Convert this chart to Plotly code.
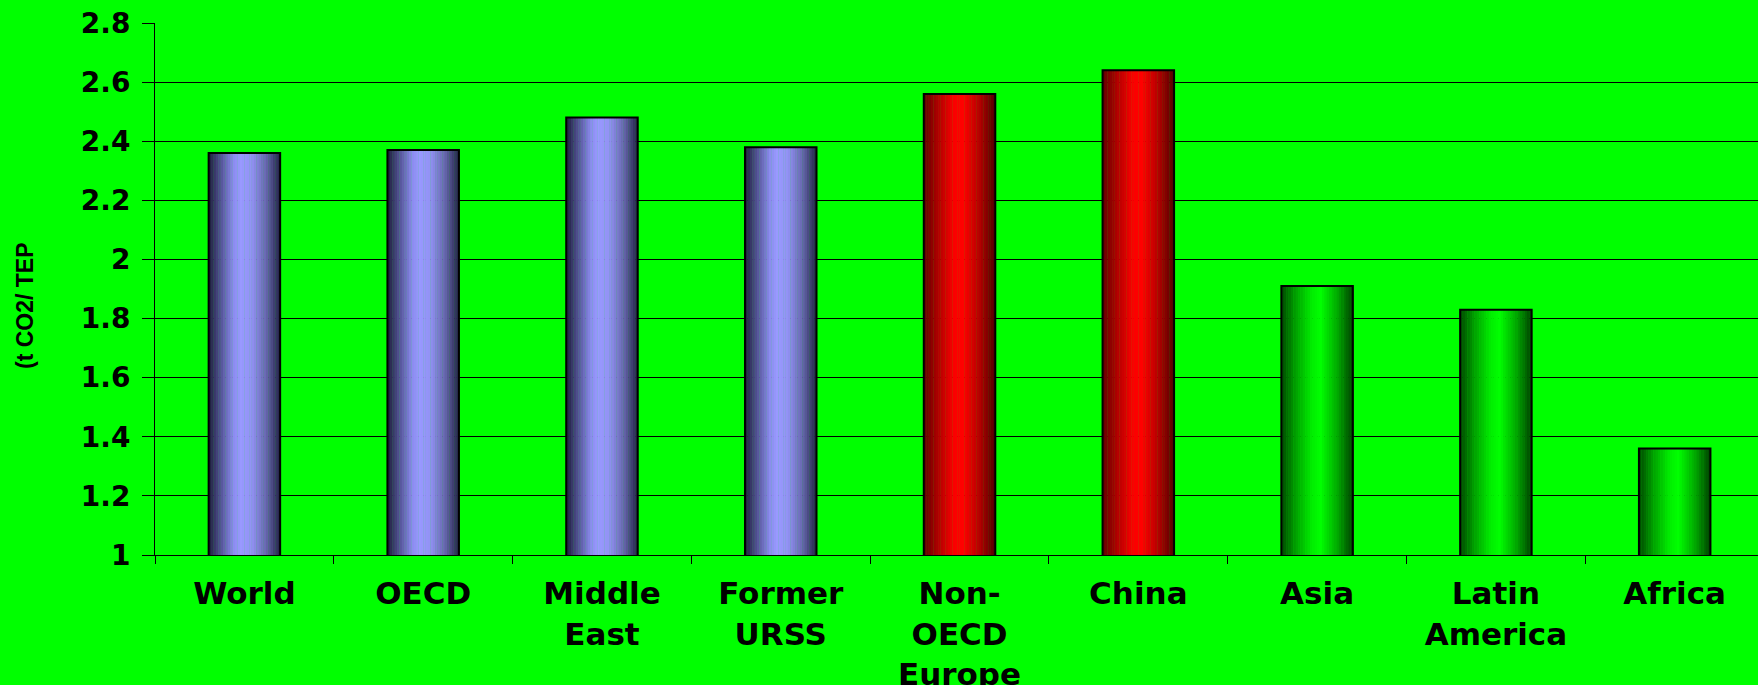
import plotly.graph_objects as go

categories = ["World", "OECD", "Middle<br>East", "Former<br>URSS", "Non-<br>OECD<br>Europe",
              "China", "Asia", "Latin<br>America", "Africa"]
values = [2.36, 2.37, 2.48, 2.38, 2.56, 2.64, 1.91, 1.83, 1.36]
groups = ["blue", "blue", "blue", "blue", "red", "red", "green", "green", "green"]
y_ticks = [1, 1.2, 1.4, 1.6, 1.8, 2, 2.2, 2.4, 2.6, 2.8]
y_title = "(t CO2/ TEP"

# gradient profiles (style): list of (fraction, rgb)
profiles = {
    "blue": [(0.0, (28, 28, 58)), (0.15, (78, 78, 140)), (0.35, (140, 140, 240)),
             (0.45, (153, 153, 255)), (0.6, (146, 146, 244)), (0.8, (104, 104, 176)),
             (1.0, (34, 34, 70))],
    "red": [(0.0, (96, 0, 0)), (0.2, (176, 0, 0)), (0.42, (250, 0, 0)),
            (0.55, (255, 0, 0)), (0.78, (180, 0, 0)), (1.0, (80, 0, 0))],
    "green": [(0.0, (0, 72, 0)), (0.2, (0, 160, 0)), (0.42, (0, 235, 0)),
              (0.55, (0, 255, 0)), (0.78, (0, 170, 0)), (1.0, (0, 64, 0))],
}


def color_at(profile, f):
    for (f0, c0), (f1, c1) in zip(profile, profile[1:]):
        if f0 <= f <= f1:
            t = (f - f0) / (f1 - f0) if f1 > f0 else 0
            c = [round(a + (b - a) * t) for a, b in zip(c0, c1)]
            return "rgb(%d,%d,%d)" % tuple(c)
    return "rgb(%d,%d,%d)" % profile[-1][1]


BAR_W = 0.40
N = 30
fig = go.Figure()
sw = BAR_W / N
for i in range(N):
    f = (i + 0.5) / N
    cols = [color_at(profiles[g], f) for g in groups]
    fig.add_trace(go.Bar(
        x=categories, y=values, width=sw * 1.15, offset=-BAR_W / 2 + i * sw,
        marker=dict(color=cols, line=dict(width=0)),
        hoverinfo="skip", showlegend=False,
    ))

fig.add_trace(go.Bar(
    x=categories, y=values, width=BAR_W, offset=-BAR_W / 2,
    marker=dict(color="rgba(0,0,0,0)", line=dict(color="black", width=2)),
    hoverinfo="skip", showlegend=False,
))

font_family = "DejaVu Sans, Liberation Sans, Arial, sans-serif"
fig.update_layout(
    width=1758, height=685,
    barmode="overlay",
    paper_bgcolor="#00FF00", plot_bgcolor="#00FF00",
    margin=dict(l=155, r=0, t=23, b=130, autoexpand=False),
    showlegend=False,
    xaxis=dict(
        type="category", range=[-0.5, 8.466], automargin=False,
        showgrid=False, showline=True, linecolor="black", linewidth=1,
        ticks="outside", tickson="boundaries", ticklen=8, tickcolor="black",
        tickfont=dict(family=font_family, size=31, color="black", weight=700),
        ticklabelstandoff=11,
    ),
    yaxis=dict(
        range=[1, 2.8], tickmode="array", tickvals=y_ticks, automargin=False,
        ticktext=[("%g" % v) for v in y_ticks],
        showgrid=True, gridcolor="black", gridwidth=1, zeroline=False,
        showline=True, linecolor="black", linewidth=1,
        ticks="outside", ticklen=12, tickcolor="black",
        tickfont=dict(family=font_family, size=28, color="black", weight=700),
        ticklabelstandoff=6,
    ),
    annotations=[dict(
        text=y_title, textangle=-90, showarrow=False,
        xref="paper", yref="paper", x=0, y=0.5, xanchor="center", yanchor="middle",
        xshift=-130, yshift=-17,
        font=dict(family="Liberation Sans, Arial, sans-serif", size=23, color="black", weight=700),
    )],
)

fig.write_html("out.html", config={"displayModeBar": False},
               post_script="document.body.style.margin='0';document.body.style.overflow='hidden';")
